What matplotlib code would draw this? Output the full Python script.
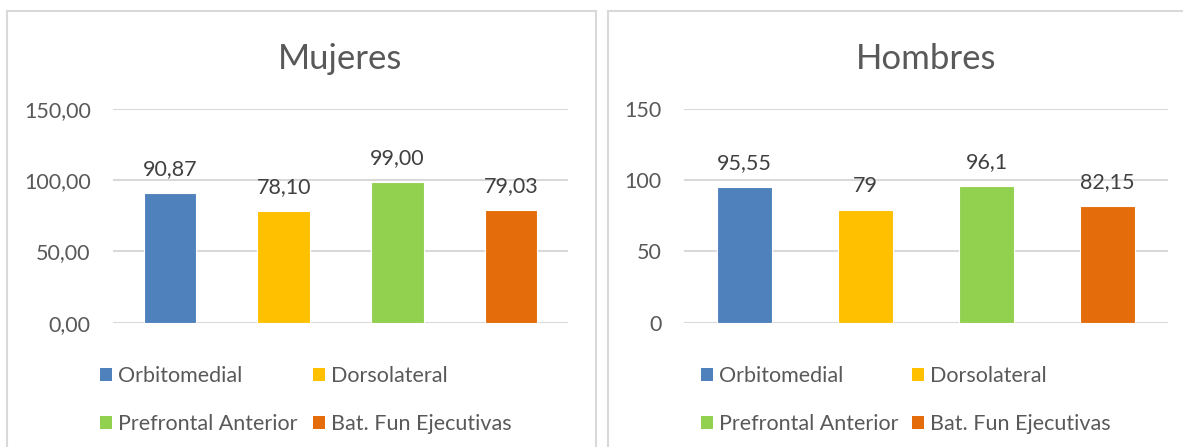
import matplotlib
matplotlib.use("Agg")
import matplotlib.pyplot as plt
from matplotlib.patches import Rectangle, Patch

plt.rcParams['font.family'] = ['Lato', 'DejaVu Sans']

categories = ["Orbitomedial", "Dorsolateral", "Prefrontal Anterior", "Bat. Fun Ejecutivas"]
colors = ["#4F81BD", "#FFC000", "#92D050", "#E46C0A"]

mujeres_vals = [90.87, 78.10, 99.00, 79.03]
mujeres_labels = ["90,87", "78,10", "99,00", "79,03"]
hombres_vals = [95.55, 79, 96.1, 82.15]
hombres_labels = ["95,55", "79", "96,1", "82,15"]

yticks = [0, 50, 100, 150]
mujeres_ticklabels = ["0,00", "50,00", "100,00", "150,00"]
hombres_ticklabels = ["0", "50", "100", "150"]

W, H = 1183, 447
txt = "#595959"
grid = "#d9d9d9"

fig = plt.figure(figsize=(W / 100, H / 100), dpi=100)

# panel frames
fig.patches.append(Rectangle((7 / W, -0.1), 589 / W, 1.1 - 11 / H, transform=fig.transFigure,
                             fill=False, edgecolor=grid, lw=1.5))
fig.patches.append(Rectangle((608 / W, -0.1), 600 / W, 1.1 - 11 / H, transform=fig.transFigure,
                             fill=False, edgecolor=grid, lw=1.5))


def panel(x0, x1, title, vals, labels, ticklabels, leg_x, colsp):
    top, bot = 109, 322.7
    ax = fig.add_axes([x0 / W, 1 - bot / H, (x1 - x0) / W, (bot - top) / H])
    xs = range(len(vals))
    bars = ax.bar(xs, vals, width=0.46, color=colors, edgecolor="white", linewidth=0.8, zorder=3)
    for b, lab in zip(bars, labels):
        ax.annotate(lab, (b.get_x() + b.get_width() / 2, b.get_height()), xytext=(0, 10),
                    textcoords="offset points", ha="center", va="bottom", fontsize=15.5, color="#404040")
    ax.set_xlim(-0.5, len(vals) - 0.5)
    ax.set_ylim(0, 150)
    ax.set_yticks(yticks)
    ax.set_yticklabels(ticklabels)
    ax.yaxis.grid(True, color=grid, lw=1.5, zorder=0)
    ax.set_axisbelow(True)
    ax.tick_params(axis="y", length=0, pad=16, labelsize=15.5, labelcolor=txt)
    ax.set_xticks([])
    for s in ax.spines.values():
        s.set_visible(False)
    ax.set_facecolor("none")
    ax.set_title(title, fontsize=25, color=txt, pad=29)

    order = [0, 2, 1, 3]
    handles = [Patch(facecolor=colors[i], label=categories[i]) for i in order]
    fig.legend(handles=handles, loc="upper left", bbox_to_anchor=(leg_x / W, 1 - 366 / H), ncol=2,
               frameon=False, fontsize=15.5, labelcolor=txt, handlelength=0.55, handleheight=0.55,
               handletextpad=0.3, columnspacing=colsp, labelspacing=1.3, borderaxespad=0, borderpad=0)
    return ax


panel(113, 568, "Mujeres", mujeres_vals, mujeres_labels, mujeres_ticklabels, 100, 0.7)
panel(684, 1168, "Hombres", hombres_vals, hombres_labels, hombres_ticklabels, 701, 0.6)

fig.savefig("out.png", dpi=100, facecolor="white")
